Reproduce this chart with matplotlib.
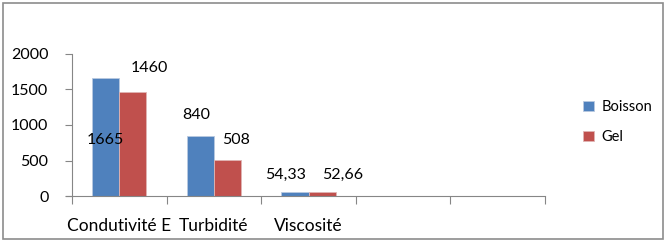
import numpy as np
import matplotlib.pyplot as plt
from matplotlib.patches import Rectangle

categories = ["Condutivité E", "Turbidité", "Viscosité", "", ""]
boisson = [1665, 840, 54.33]
gel = [1460, 508, 52.66]
boisson_labels = ["1665", "840", "54,33"]
gel_labels = ["1460", "508", "52,66"]

# label offsets in pixels (dx, dy) from bar top centre, moved by hand in the original
boisson_off = [(0, None), (-4, 21), (-9, 17)]
gel_off = [(16, 24), (9, 20), (21, 17)]

plt.rcParams['font.family'] = ['Lato', 'DejaVu Sans']
blue = "#4F81BD"
red = "#C0504D"
grey = "#868686"

fig = plt.figure(figsize=(6.65, 2.42), dpi=100)
ax = fig.add_axes([72 / 665, 46 / 242, 473 / 665, 142 / 242])

x = np.arange(len(categories))
w = 0.287
xb = x[:len(boisson)] - w / 2
xg = x[:len(gel)] + w / 2
ax.bar(xb, boisson, w, color=blue, edgecolor="#b9c9e0", linewidth=0.6, label="Boisson")
ax.bar(xg, gel, w, color=red, edgecolor="#e0b5b4", linewidth=0.6, label="Gel")

pt = 72 / 100
fs = 11.5
for i, v in enumerate(boisson):
    dx, dy = boisson_off[i]
    if dy is None:
        ax.annotate(boisson_labels[i], (xb[i], v / 2), xytext=(dx * pt, -3 * pt),
                    textcoords="offset points", ha="center", va="center", fontsize=fs)
    else:
        ax.annotate(boisson_labels[i], (xb[i], v), xytext=(dx * pt, dy * pt),
                    textcoords="offset points", ha="center", va="center", fontsize=fs)
for i, v in enumerate(gel):
    dx, dy = gel_off[i]
    ax.annotate(gel_labels[i], (xg[i], v), xytext=(dx * pt, dy * pt),
                textcoords="offset points", ha="center", va="center", fontsize=fs)

ax.set_xlim(-0.5, len(categories) - 0.5)
ax.set_ylim(0, 2000)
ax.set_yticks([0, 500, 1000, 1500, 2000])
ax.set_xticks(np.arange(len(categories) + 1) - 0.5, minor=False)
ax.set_xticklabels([])
ax.set_xticks(x, minor=True)
ax.set_xticklabels(categories, minor=True)
ax.tick_params(axis="x", which="minor", length=0, pad=16, labelsize=12.5)
ax.tick_params(axis="x", which="major", length=6, color=grey, direction="out")
ax.tick_params(axis="y", length=5, color=grey, pad=12, labelsize=fs)

for s in ["top", "right"]:
    ax.spines[s].set_visible(False)
ax.spines["left"].set_color(grey)
ax.spines["bottom"].set_color(grey)
ax.spines["bottom"].set_bounds(-0.5 - 6 / 94.6, len(categories) - 0.5)

fig.legend(loc="upper left", bbox_to_anchor=(570 / 665, 1 - 87 / 242), frameon=False,
           fontsize=10.5, handlelength=0.75, handleheight=0.75, labelspacing=1.1,
           handletextpad=0.5)

fig.patches.append(Rectangle((3 / 665, 3 / 242), 660 / 665, 236 / 242, transform=fig.transFigure,
                             fill=False, edgecolor="#8c8c8c", linewidth=1.2))

fig.savefig("out.png", dpi=100)
